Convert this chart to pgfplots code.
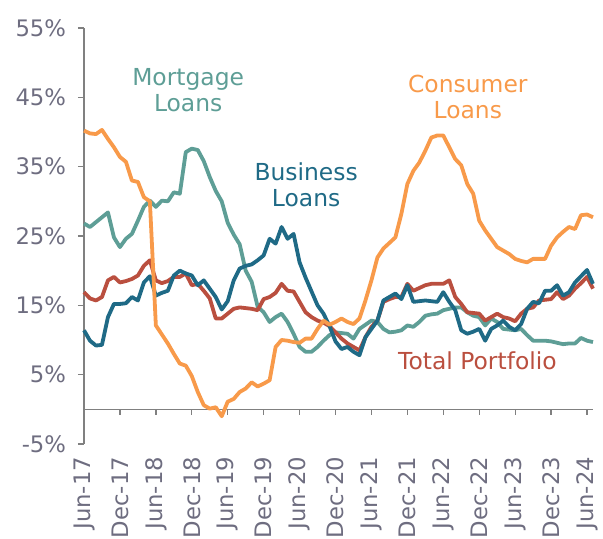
\documentclass[border=0pt]{standalone}
\usepackage{pgfplots}
\pgfplotsset{compat=1.18}
\usepackage{pgfplotstable}
\usepackage{fontspec}
\setmainfont{DejaVu Sans}
\definecolor{mort}{HTML}{5E9E96}
\definecolor{cons}{HTML}{F89A4A}
\definecolor{bus}{HTML}{1F6A86}
\definecolor{tot}{HTML}{BA4F3F}
\definecolor{lblgray}{HTML}{6E6D80}
\definecolor{axgray}{HTML}{808080}
\pgfplotstableread{
m mort cons bus tot
0 26.8 40.2 11.4 16.9
1 26.3 39.8 9.9 16.0
2 27.0 39.7 9.2 15.7
3 27.7 40.3 9.3 16.2
4 28.4 39.0 13.3 18.6
5 24.8 37.8 15.2 19.1
6 23.4 36.4 15.2 18.3
7 24.6 35.7 15.3 18.5
8 25.3 33.0 16.2 18.8
9 27.2 32.8 15.7 19.3
10 29.2 30.6 18.3 20.7
11 30.1 30.0 19.2 21.5
12 29.2 12.1 16.4 18.6
13 30.1 10.8 16.8 18.2
14 30.0 9.5 17.1 18.5
15 31.3 8.0 19.3 19.1
16 31.1 6.6 20.0 19.1
17 37.1 6.3 19.6 19.6
18 37.6 4.8 19.3 17.9
19 37.4 2.5 17.9 18.1
20 35.8 0.6 18.6 17.1
21 33.5 0.1 17.4 16.0
22 31.5 0.3 16.2 13.1
23 30.0 -1.0 14.4 13.1
24 26.9 1.1 15.6 13.8
25 25.2 1.5 18.6 14.5
26 23.8 2.5 20.3 14.7
27 20.0 3.0 20.7 14.6
28 18.4 3.9 20.9 14.5
29 14.8 3.3 21.5 14.3
30 14.0 3.7 22.2 15.9
31 12.6 4.2 24.6 16.2
32 13.3 9.0 23.9 16.8
33 13.8 10.0 26.3 18.1
34 12.6 9.9 24.6 17.1
35 10.9 9.7 25.3 17.0
36 9.0 9.6 21.2 15.5
37 8.3 10.2 19.0 14.0
38 8.3 10.2 17.0 13.3
39 9.0 11.6 15.0 12.8
40 9.9 12.8 13.8 12.5
41 10.7 12.2 12.0 12.0
42 11.1 12.6 9.8 11.1
43 11.0 13.1 8.7 10.2
44 10.9 12.6 9.0 9.5
45 10.2 12.3 8.3 9.0
46 11.6 13.1 7.8 8.5
47 12.2 15.7 10.4 10.4
48 12.8 18.6 11.6 11.9
49 12.6 21.9 12.8 12.8
50 11.6 23.2 15.7 15.5
51 11.1 24.0 16.2 15.9
52 11.2 24.8 16.7 16.2
53 11.4 28.2 15.9 16.2
54 12.1 32.5 17.9 18.1
55 11.9 34.4 15.5 17.1
56 12.6 35.6 15.6 17.5
57 13.5 37.3 15.7 17.9
58 13.7 39.2 15.6 18.1
59 13.8 39.5 15.5 18.1
60 14.3 39.5 16.9 18.1
61 14.5 37.8 15.5 18.6
62 14.7 36.1 14.3 16.2
63 14.7 35.2 11.4 15.2
64 14.0 32.5 10.9 14.0
65 13.5 31.1 11.2 13.9
66 13.3 27.2 11.6 13.8
67 12.1 25.8 9.9 12.8
68 13.1 24.6 11.6 13.3
69 12.6 23.4 12.1 13.8
70 11.6 22.9 12.8 13.3
71 11.5 22.4 11.9 13.1
72 11.4 21.7 11.4 12.7
73 11.6 21.4 12.3 13.8
74 10.7 21.2 14.5 14.5
75 9.9 21.7 15.5 14.7
76 9.9 21.7 15.3 15.7
77 9.9 21.7 17.1 15.8
78 9.8 23.6 17.1 15.9
79 9.6 24.8 17.9 16.9
80 9.4 25.6 16.4 15.9
81 9.5 26.3 16.9 16.4
82 9.5 26.0 18.3 17.4
83 10.3 28.0 19.2 18.2
84 9.9 28.1 20.1 19.1
85 9.7 27.7 18.1 17.4
}\datatable
\begin{document}
\fontsize{23.5}{26.1}\selectfont
\begin{tikzpicture}
\begin{axis}[
  at={(84bp,95bp)}, anchor=south west,
  scale only axis, width=509bp, height=416bp,
  xmin=0, xmax=85, ymin=-5, ymax=55,
  axis x line*=bottom, axis y line*=left,
  x axis line style={draw=none},
  y axis line style={draw=axgray, line width=1.5bp},
  tick align=outside,
  major tick length=6bp,
  xtick={0,6,...,84},
  xticklabels={Jun-17,Dec-17,Jun-18,Dec-18,Jun-19,Dec-19,Jun-20,Dec-20,Jun-21,Dec-21,Jun-22,Dec-22,Jun-23,Dec-23,Jun-24},
  xtick style={draw=none},
  ytick={-5,5,15,25,35,45,55},
  yticklabels={-5\%,5\%,15\%,25\%,35\%,45\%,55\%},
  ytick style={draw=axgray, line width=1.3bp},
  tick label style={text=lblgray, font=\fontsize{22.8}{25}\selectfont},
  xticklabel style={rotate=90, anchor=east, xshift=1bp},
  xticklabel shift=0bp,
  yticklabel style={xshift=-4bp},
  clip=false,
  line join=round,
]
\draw[axgray, line width=1.5bp] (axis cs:0,0) -- (axis cs:85,0);
\pgfplotsinvokeforeach{0,6,12,18,24,30,36,42,48,54,60,66,72,78,84}{
  \draw[axgray, line width=1.3bp] (axis cs:#1,0) -- ++(0bp,-6bp);
}
\addplot[mort, line width=3.8bp, no markers] table[x=m, y=mort] {\datatable};
\addplot[tot, line width=3.8bp, no markers] table[x=m, y=tot] {\datatable};
\addplot[bus, line width=3.8bp, no markers] table[x=m, y=bus] {\datatable};
\addplot[cons, line width=3.8bp, no markers] table[x=m, y=cons] {\datatable};
\node[text=mort, align=center, font=\fontsize{23.5}{26.1}\selectfont] at (axis cs:17.4,46.1) {Mortgage\\Loans};
\node[text=cons, align=center, font=\fontsize{23.5}{26.1}\selectfont] at (axis cs:64.1,45.1) {Consumer\\Loans};
\node[text=bus, align=center, font=\fontsize{23.5}{26.1}\selectfont] at (axis cs:37.1,32.4) {Business\\Loans};
\node[text=tot, font=\fontsize{23.5}{26.1}\selectfont] at (axis cs:65.7,7.0) {Total Portfolio};
\end{axis}
\pgfresetboundingbox
\useasboundingbox (0,0) rectangle (603bp,539bp);
\end{tikzpicture}
\end{document}
